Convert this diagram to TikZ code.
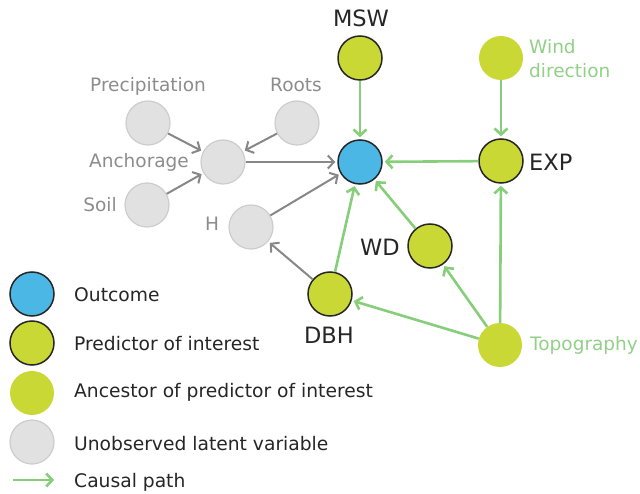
\documentclass[tikz,border=0pt]{standalone}
\usepackage{fontspec}
\setmainfont{DejaVu Sans}
\usetikzlibrary{arrows.meta}

\definecolor{outblue}{RGB}{74,183,228}
\definecolor{predgreen}{RGB}{201,216,52}
\definecolor{latentgray}{RGB}{225,225,225}
\definecolor{latentedge}{RGB}{205,205,205}
\definecolor{causalgreen}{RGB}{134,206,122}
\definecolor{arrowgray}{RGB}{135,135,135}
\definecolor{labgray}{RGB}{140,140,140}
\definecolor{labgreen}{RGB}{145,208,135}

\tikzset{
  var/.style={circle, minimum size=44pt, inner sep=0pt},
  outcome/.style={var, fill=outblue, draw=black!85, line width=1.5pt},
  predictor/.style={var, fill=predgreen, draw=black!85, line width=1.5pt},
  ancestor/.style={var, fill=predgreen},
  latent/.style={var, fill=latentgray, draw=latentedge, line width=1.2pt},
  causal/.style={draw=causalgreen, line width=2.6pt, -{Straight Barb[length=6pt,width=13pt]}, shorten >=2pt},
  hidden/.style={draw=arrowgray, line width=2pt, -{Straight Barb[length=6pt,width=13pt]}, shorten >=2pt},
  blacklab/.style={font=\fontsize{22.5}{27}\selectfont, text=black!85, inner sep=0pt, anchor=base},
  graylab/.style={font=\fontsize{18.5}{24}\selectfont, text=labgray, inner sep=0pt, anchor=base},
  greenlab/.style={font=\fontsize{18.5}{24}\selectfont, text=labgreen, inner sep=0pt, anchor=base west},
  legendlab/.style={font=\fontsize{18.7}{24}\selectfont, text=black!85, inner sep=0pt, anchor=base west}
}

\begin{document}
\begin{tikzpicture}[x=1pt,y=-1pt]

\useasboundingbox (0,0) rectangle (640,494);

% latent variables
\node[latent] (prec) at (148,123) {};
\node[latent] (roots) at (297,123) {};
\node[latent] (anch) at (223,162) {};
\node[latent] (soil) at (147,205) {};
\node[latent] (h) at (251,227) {};

\node[graylab] (preclab) at (148,92) {Precipitation};
\node[graylab] (rootslab) at (296,92) {Roots};
\node[graylab] (anchlab) at (139,168) {Anchorage};
\node[graylab] (soillab) at (100,212) {Soil};
\node[graylab] (hlab) at (212,231) {H};

% observed variables
\node[outcome] (out) at (360,162) {};
\node[predictor] (msw) at (360,58) {};
\node[ancestor] (wind) at (501,58) {};
\node[predictor] (exp) at (501,161) {};
\node[predictor] (wd) at (430,246) {};
\node[predictor] (dbh) at (330,294) {};
\node[ancestor] (topo) at (500,345) {};

\node[blacklab] (mswlab) at (361,27) {MSW};
\node[blacklab, anchor=base west] (explab) at (529,171) {EXP};
\node[blacklab] (wdlab) at (380,256) {WD};
\node[blacklab] (dbhlab) at (329,344) {DBH};
\node[greenlab, anchor=north west, align=left] (windlab) at (529,39) {Wind\\direction};
\node[greenlab] (topolab) at (530,350) {Topography};

% paths through latent variables
\draw[hidden] (prec) -- (anch);
\draw[hidden] (roots) -- (anch);
\draw[hidden] (soil) -- (anch);
\draw[hidden] (anch) -- (out);
\draw[hidden] (h) -- (out);
\draw[hidden] (dbh) -- (h);

% causal paths
\draw[causal] (msw) -- (out);
\draw[causal] (wind) -- (exp);
\draw[causal] (exp) -- (out);
\draw[causal] (wd) -- (out);
\draw[causal] (dbh) -- (out);
\draw[causal] (topo) -- (dbh);
\draw[causal] (topo) -- (wd);
\draw[causal] (topo) -- (exp);

% legend
\node[outcome] (legout) at (32,294) {};
\node[predictor] (legpred) at (32,343) {};
\node[ancestor] (leganc) at (32,393) {};
\node[latent] (leglat) at (32,442) {};
\coordinate (legfrom) at (13,480);
\coordinate (legto) at (54,480);
\draw[causal, shorten >=0pt] (legfrom) -- (legto);

\node[legendlab] (legoutlab) at (74,302) {Outcome};
\node[legendlab] (legpredlab) at (74,350) {Predictor of interest};
\node[legendlab] (legancla) at (74,397) {Ancestor of predictor of interest};
\node[legendlab] (leglatlab) at (74,450) {Unobserved latent variable};
\node[legendlab] (legcauslab) at (74,487) {Causal path};

\end{tikzpicture}
\end{document}
